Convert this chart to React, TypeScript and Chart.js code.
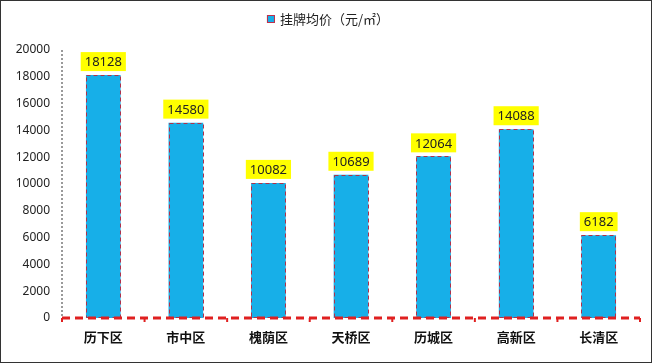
import React, { useEffect, useRef } from "react";
import { Chart, registerables } from "chart.js";
Chart.register(...registerables);

const categories = ["历下区", "市中区", "槐荫区", "天桥区", "历城区", "高新区", "长清区"];
const values = [18128, 14580, 10082, 10689, 12064, 14088, 6182];
const seriesName = "挂牌均价（元/㎡）";
const yMin = 0;
const yMax = 20000;
const yStep = 2000;

const legendPlugin = {
  id: "legendPlugin",
  afterDraw(chart: any) {
    const ctx = chart.ctx;
    ctx.save();
    ctx.font = "13px 'Noto Sans CJK SC', sans-serif";
    const tw = ctx.measureText(seriesName).width;
    const total = 8 + 5 + tw;
    const x0 = chart.width / 2 - total / 2 + 2;
    const cy = 18;
    ctx.fillStyle = "#17AFE8";
    ctx.fillRect(x0, cy - 4, 8, 8);
    ctx.strokeStyle = "#C0304A";
    ctx.lineWidth = 1;
    ctx.strokeRect(x0 + 0.5, cy - 3.5, 7, 7);
    ctx.fillStyle = "#222";
    ctx.textAlign = "left";
    ctx.textBaseline = "middle";
    ctx.fillText(seriesName, x0 + 13, cy);
    ctx.restore();
  },
};

const axisLines = {
  id: "axisLines",
  afterDatasetsDraw(chart: any) {
    const ctx = chart.ctx;
    const { left, right, top, bottom } = chart.chartArea;
    ctx.save();
    ctx.strokeStyle = "#9A9A9A";
    ctx.lineWidth = 2;
    ctx.setLineDash([2, 2]);
    ctx.beginPath();
    ctx.moveTo(left, top);
    ctx.lineTo(left, bottom);
    ctx.stroke();
    ctx.strokeStyle = "#E02020";
    ctx.lineWidth = 3;
    ctx.setLineDash([8, 5]);
    ctx.beginPath();
    ctx.moveTo(left, bottom);
    ctx.lineTo(right, bottom);
    ctx.stroke();
    ctx.setLineDash([]);
    ctx.lineWidth = 2;
    const n = categories.length;
    for (let i = 0; i <= n; i++) {
      const x = left + ((right - left) * i) / n;
      ctx.beginPath();
      ctx.moveTo(x, bottom);
      ctx.lineTo(x, bottom + 4);
      ctx.stroke();
    }
    ctx.restore();
  },
};

const dashedBars = {
  id: "dashedBars",
  afterDatasetsDraw(chart: any) {
    const ctx = chart.ctx;
    const meta = chart.getDatasetMeta(0);
    ctx.save();
    ctx.strokeStyle = "#B0304A";
    ctx.lineWidth = 1;
    ctx.setLineDash([4, 3]);
    meta.data.forEach((bar: any) => {
      const { x, y, base, width } = bar.getProps(["x", "y", "base", "width"], true);
      ctx.strokeRect(Math.round(x - width / 2) + 0.5, Math.round(y) + 0.5, Math.round(width) - 1, Math.round(base - y) - 1);
    });
    ctx.setLineDash([]);
    ctx.font = "13px 'Noto Sans', sans-serif";
    ctx.textAlign = "center";
    ctx.textBaseline = "middle";
    meta.data.forEach((bar: any, i: number) => {
      const { x, y } = bar.getProps(["x", "y"], true);
      const txt = String(values[i]);
      const w = ctx.measureText(txt).width + 8;
      const h = 19;
      const by = y - 4 - h;
      ctx.fillStyle = "#FFFF00";
      ctx.fillRect(x - w / 2, by, w, h);
      ctx.fillStyle = "#222";
      ctx.fillText(txt, x, by + h / 2 + 1);
    });
    ctx.restore();
  },
};

export default function App() {
  const ref = useRef<HTMLCanvasElement>(null);
  useEffect(() => {
    document.body.style.margin = "0";
    const chart = new Chart(ref.current!, {
      type: "bar",
      data: {
        labels: categories,
        datasets: [
          {
            label: seriesName,
            data: values,
            backgroundColor: "#17AFE8",
            borderWidth: 0,
            categoryPercentage: 1,
            barPercentage: 0.42,
          },
        ],
      },
      options: {
        responsive: false,
        animation: false,
        layout: { padding: { left: 0, right: 11, top: 49, bottom: 0 } },
        plugins: {
          legend: { display: false },
          tooltip: { enabled: false },
        },
        scales: {
          x: {
            afterFit: (s: any) => {
              s.height = 44;
            },
            grid: { display: false, drawTicks: false },
            border: { display: false },
            ticks: {
              color: "#111",
              padding: 11,
              font: { size: 13, weight: "bold", family: "'Noto Sans CJK SC', sans-serif" },
            },
          },
          y: {
            min: yMin,
            max: yMax,
            afterFit: (s: any) => {
              s.width = 61;
            },
            grid: { display: false, drawTicks: false },
            border: { display: false },
            ticks: {
              stepSize: yStep,
              color: "#222",
              padding: 12,
              font: { size: 12, family: "'Noto Sans', sans-serif" },
              callback: (v: any) => String(v),
            },
          },
        },
      },
      plugins: [dashedBars, axisLines, legendPlugin],
    });
    return () => chart.destroy();
  }, []);
  return (
    <div
      style={{
        width: 652,
        height: 363,
        border: "1px solid #333",
        boxSizing: "border-box",
        background: "#fff",
      }}
    >
      <canvas ref={ref} width={650} height={361} style={{ display: "block" }} />
    </div>
  );
}
